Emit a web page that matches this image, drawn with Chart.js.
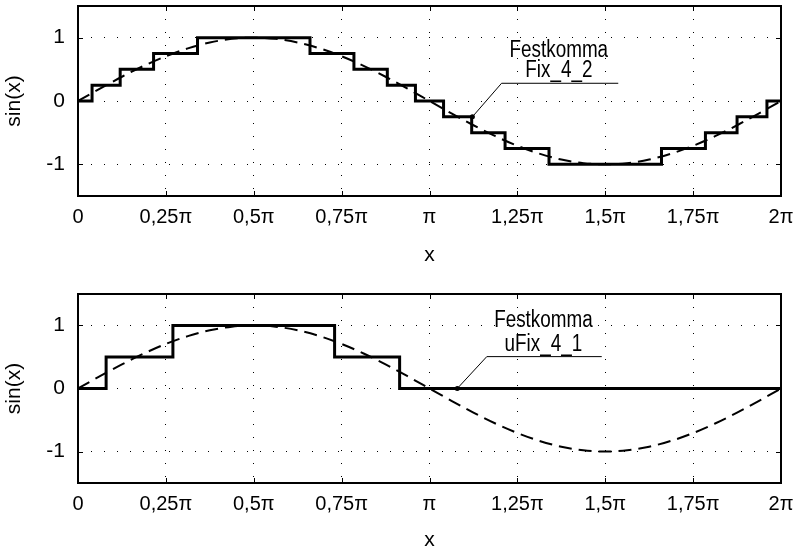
<!DOCTYPE html>
<html>
<head>
<meta charset="utf-8">
<script src="https://cdn.jsdelivr.net/npm/chart.js@4.4.0/dist/chart.umd.min.js"></script>
<style>
  html, body { margin: 0; padding: 0; background: #fff; }
  #top { position: absolute; left: 0; top: 0; width: 795px; height: 275px; }
  #bot { position: absolute; left: 0; top: 275px; width: 795px; height: 276px; }
</style>
</head>
<body>
<div id="top"><canvas id="c1"></canvas></div>
<div id="bot"><canvas id="c2"></canvas></div>
<script>
// x in units of pi
const xTicks = [0, 0.25, 0.5, 0.75, 1, 1.25, 1.5, 1.75, 2];
const xTickLabels = ["0", "0,25π", "0,5π", "0,75π", "π", "1,25π", "1,5π", "1,75π", "2π"];
const yTicks = [-1, 0, 1];
const yTickLabels = ["-1", "0", "1"];

// reference sine (dashed)
const sineX = [0, 0.0625, 0.125, 0.1875, 0.25, 0.3125, 0.375, 0.4375, 0.5, 0.5625, 0.625, 0.6875, 0.75,
  0.8125, 0.875, 0.9375, 1, 1.0625, 1.125, 1.1875, 1.25, 1.3125, 1.375, 1.4375, 1.5, 1.5625, 1.625,
  1.6875, 1.75, 1.8125, 1.875, 1.9375, 2];
const sineY = [0, 0.195, 0.383, 0.556, 0.707, 0.831, 0.924, 0.981, 1, 0.981, 0.924, 0.831, 0.707,
  0.556, 0.383, 0.195, 0, -0.195, -0.383, -0.556, -0.707, -0.831, -0.924, -0.981, -1, -0.981, -0.924,
  -0.831, -0.707, -0.556, -0.383, -0.195, 0];

// Fix_4_2 steps (value changes at each x)
const fix42X = [0, 0.04, 0.12, 0.215, 0.34, 0.66, 0.785, 0.88, 0.96, 1.04, 1.12, 1.215, 1.34, 1.66, 1.785, 1.875, 1.96, 2];
const fix42Y = [0, 0.25, 0.5, 0.75, 1, 0.75, 0.5, 0.25, 0, -0.25, -0.5, -0.75, -1, -0.75, -0.5, -0.25, 0, 0];

// uFix_4_1 steps
const ufix41X = [0, 0.08, 0.27, 0.73, 0.915, 2];
const ufix41Y = [0, 0.5, 1, 0.5, 0, 0];

const FONT = '"Liberation Sans", Arial, sans-serif';

function pts(xs, ys) {
  return xs.map((x, i) => ({ x: x, y: ys[i] }));
}

// frame, inner ticks and the labelled leader line
const framePlugin = {
  id: "frame",
  afterDatasetsDraw(chart) {
    const { ctx, chartArea: a, scales } = chart;
    const tl = 5;
    ctx.save();
    ctx.strokeStyle = "#000";
    ctx.lineWidth = 1;
    ctx.beginPath();
    xTicks.forEach(v => {
      const px = Math.round(scales.x.getPixelForValue(v)) + 0.5;
      ctx.moveTo(px, a.top); ctx.lineTo(px, a.top + tl);
      ctx.moveTo(px, a.bottom); ctx.lineTo(px, a.bottom - tl);
    });
    yTicks.forEach(v => {
      const py = Math.round(scales.y.getPixelForValue(v)) + 0.5;
      ctx.moveTo(a.left, py); ctx.lineTo(a.left + tl, py);
      ctx.moveTo(a.right, py); ctx.lineTo(a.right - tl, py);
    });
    ctx.stroke();
    ctx.lineWidth = 2;
    ctx.strokeRect(a.left, a.top, a.right - a.left, a.bottom - a.top);

    const n = chart.options.plugins.frame.note;
    const X = v => scales.x.getPixelForValue(v);
    const Y = v => scales.y.getPixelForValue(v);
    ctx.lineWidth = 1;
    ctx.beginPath();
    ctx.moveTo(X(n.tip[0]), Y(n.tip[1]));
    ctx.lineTo(X(n.elbow[0]), Y(n.elbow[1]));
    ctx.lineTo(X(n.end), Y(n.elbow[1]));
    ctx.stroke();
    ctx.beginPath();
    ctx.arc(X(n.tip[0]), Y(n.tip[1]), 2.5, 0, Math.PI * 2);
    ctx.fillStyle = "#000";
    ctx.fill();
    // condensed look of the original lettering
    ctx.font = "23px " + FONT;
    ctx.textAlign = "center";
    ctx.textBaseline = "alphabetic";
    n.lines.forEach((t, i) => {
      ctx.save();
      ctx.translate(X(n.textX), Y(n.textY[i]));
      ctx.scale(0.82, 1);
      ctx.fillText(t, 0, 0);
      ctx.restore();
    });
    ctx.restore();
  }
};

function makeChart(id, stepX, stepY, padTop, axisH, titlePad, note) {
  return new Chart(document.getElementById(id), {
    type: "line",
    data: {
      datasets: [
        {
          label: note.lines[1],
          data: pts(stepX, stepY),
          stepped: "before",
          borderColor: "#000",
          borderWidth: 3,
          pointRadius: 0,
          fill: false
        },
        {
          label: "sin(x)",
          data: pts(sineX, sineY),
          cubicInterpolationMode: "monotone",
          borderColor: "#000",
          borderWidth: 2,
          borderDash: [13, 7],
          pointRadius: 0,
          fill: false
        }
      ]
    },
    options: {
      responsive: true,
      maintainAspectRatio: false,
      animation: false,
      layout: { padding: { top: padTop, right: 14, left: 0, bottom: 0 } },
      plugins: {
        legend: { display: false },
        tooltip: { enabled: false },
        frame: { note: note }
      },
      scales: {
        x: {
          type: "linear",
          min: 0,
          max: 2,
          afterBuildTicks: s => { s.ticks = xTicks.map(v => ({ value: v })); },
          afterFit: s => { s.height = axisH; s.paddingLeft = 0; s.paddingRight = 0; },
          ticks: {
            autoSkip: false,
            maxRotation: 0,
            padding: 9,
            color: "#000",
            font: { family: FONT, size: 20 },
            callback: v => xTickLabels[xTicks.indexOf(v)]
          },
          grid: { color: "#000", lineWidth: 1, drawTicks: false },
          border: { display: false, dash: [1, 12] },
          title: {
            display: true,
            text: "x",
            color: "#000",
            font: { family: FONT, size: 21 },
            padding: { top: 0, bottom: titlePad }
          }
        },
        y: {
          type: "linear",
          min: -1.5,
          max: 1.5,
          afterBuildTicks: s => { s.ticks = yTicks.map(v => ({ value: v })); },
          afterFit: s => { s.width = 78; s.paddingTop = 0; s.paddingBottom = 0; },
          ticks: {
            padding: 13,
            color: "#000",
            font: { family: FONT, size: 21 },
            callback: v => yTickLabels[yTicks.indexOf(v)]
          },
          grid: { color: "#000", lineWidth: 1, drawTicks: false },
          border: { display: false, dash: [1, 12] },
          title: {
            display: true,
            text: "sin(x)",
            color: "#000",
            font: { family: FONT, size: 21 },
            padding: { top: 2, bottom: 0 }
          }
        }
      }
    },
    plugins: [framePlugin]
  });
}

makeChart("c1", fix42X, fix42Y, 6, 79, 7, {
  lines: ["Festkomma", "Fix_4_2"],
  textX: 1.368, textY: [0.70, 0.386],
  tip: [1.122, -0.25], elbow: [1.205, 0.28], end: 1.537
});
makeChart("c2", ufix41X, ufix41Y, 19, 68, -2, {
  lines: ["Festkomma", "uFix_4_1"],
  textX: 1.324, textY: [0.97, 0.60],
  tip: [1.079, 0], elbow: [1.163, 0.506], end: 1.49
});
</script>
</body>
</html>
